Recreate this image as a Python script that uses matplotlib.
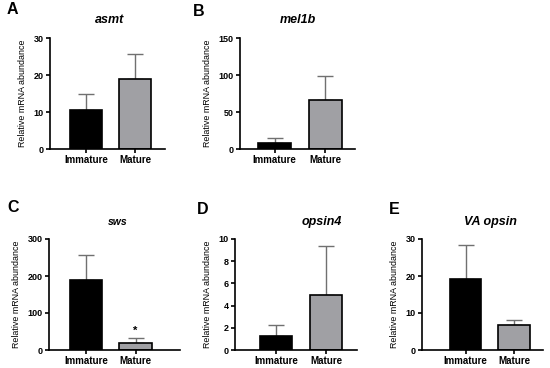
import matplotlib
matplotlib.use("Agg")
import matplotlib.pyplot as plt

plt.rcParams['font.family'] = ['Liberation Sans', 'DejaVu Sans']
plt.rcParams['font.weight'] = 'bold'

# data
groups = ["Immature", "Mature"]
genes = ["asmt", "mel1b", "sws", "opsin4", "VA opsin"]
panel_letters = ["A", "B", "C", "D", "E"]
means = [
    [10.5, 19.0],
    [8.0, 66.0],
    [190.0, 20.0],
    [1.25, 5.0],
    [19.3, 6.8],
]
sems = [
    [4.5, 6.8],
    [7.0, 33.0],
    [67.0, 13.0],
    [1.0, 4.4],
    [9.2, 1.4],
]
ymax = [30, 150, 300, 10, 30]
yticks = [
    [0, 10, 20, 30],
    [0, 50, 100, 150],
    [0, 100, 200, 300],
    [0, 2, 4, 6, 8, 10],
    [0, 10, 20, 30],
]
stars = [None, None, [None, "*"], None, None]

W, H = 550, 368
# axes boxes in pixels: left, right, top, bottom ; xlim
boxes = [
    (50, 165, 38, 149, (-0.73, 1.6)),
    (240, 355, 38, 149, (-0.68, 1.58)),
    (49, 180, 239, 350, (-0.75, 1.9)),
    (235, 357, 239, 350, (-0.82, 1.62)),
    (422, 543, 239, 350, (-0.9, 1.6)),
]
letter_pos = [(7, 10), (193, 11), (7, 208), (197, 209), (389, 209)]
title_pos = [(110, 20), (298, 20), (118, 222), (322, 222), (490, 222)]
title_size = [9, 9, 7.5, 9, 9]

bar_colors = ["black", "#a0a0a4"]

fig = plt.figure(figsize=(W / 100, H / 100), dpi=100)

for i in range(5):
    l, r, t, b, xl = boxes[i]
    ax = fig.add_axes([l / W, 1 - b / H, (r - l) / W, (b - t) / H])
    ax.bar([0, 1], means[i], width=0.65, color=bar_colors,
           edgecolor="black", linewidth=1.2, zorder=2)
    ax.errorbar([0, 1], means[i], yerr=[[0, 0], sems[i]], fmt="none",
                ecolor="#707070", elinewidth=1, capsize=5.5, capthick=1, zorder=1)
    if stars[i]:
        for j, s in enumerate(stars[i]):
            if s:
                ax.text(j, means[i][j] + sems[i][j] + ymax[i] * 0.02, s,
                        ha="center", va="bottom", fontsize=8)
    ax.set_xlim(*xl)
    ax.set_ylim(0, ymax[i])
    ax.set_yticks(yticks[i])
    ax.set_xticks([0, 1])
    ax.set_xticklabels(groups)
    for side in ["top", "right"]:
        ax.spines[side].set_visible(False)
    for side in ["left", "bottom"]:
        ax.spines[side].set_linewidth(1.2)
    ax.tick_params(axis="y", labelsize=6.5, width=1.2, length=3, pad=1.5)
    ax.tick_params(axis="x", labelsize=7, width=1.2, length=3, pad=1.5)
    ax.set_ylabel("Relative mRNA abundance", fontsize=6.4, labelpad=5)

    fig.text(letter_pos[i][0] / W, 1 - letter_pos[i][1] / H, panel_letters[i],
             fontsize=11.5, fontweight="bold", ha="left", va="center")
    fig.text(title_pos[i][0] / W, 1 - title_pos[i][1] / H, genes[i],
             fontsize=title_size[i], fontweight="bold", style="italic",
             ha="center", va="center")

fig.savefig("out.png", dpi=100)
